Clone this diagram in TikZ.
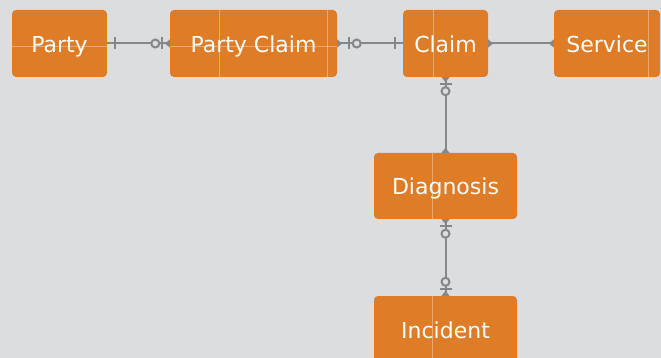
\documentclass[tikz,border=0pt]{standalone}
\usepackage{fontspec}
\newfontfamily\boxfont{DejaVu Sans}
\definecolor{bg}{HTML}{DCDDDF}
\definecolor{boxorange}{HTML}{DE7C28}
\definecolor{linegray}{HTML}{85878A}
\tikzset{
  ent/.style={fill=boxorange, rounded corners=4pt, inner sep=0pt, minimum height=67pt},
  lbl/.style={anchor=base, inner sep=0pt, text=white, font=\boxfont\fontsize{22}{26}\selectfont},
  conn/.style={draw=linegray, line width=2pt},
  tipmark/.style={fill=linegray, draw=none},
  tex/.style={draw=white, opacity=0.35, line width=0.8pt}
}
\begin{document}
\begin{tikzpicture}[x=1pt,y=-1pt]
\fill[bg] (0,0) rectangle (661,358);
\useasboundingbox (0,0) rectangle (661,358);
\clip (0,0) rectangle (661,358);
% entities
\node[ent, minimum width=95pt] (party) at (59.5,43.5) {};
\node[ent, minimum width=167pt] (pc) at (253.5,43.5) {};
\node[ent, minimum width=85pt] (claim) at (445.5,43.5) {};
\node[ent, minimum width=106pt] (service) at (607,43.5) {};
\node[ent, minimum width=143pt, minimum height=66pt] (diag) at (445.5,186) {};
\node[ent, minimum width=143pt] (inc) at (445.5,329.5) {};
% texture lines
\draw[tex] ([yshift=-3pt]party.west) -- ([yshift=-3pt]party.east);
\draw[tex] ([yshift=-3pt]pc.west) -- ([yshift=-3pt]pc.east);
\draw[tex] (219,10) -- (219,77);
\draw[tex] (327,10) -- (327,77);
\draw[tex] (433,10) -- (433,77);
\draw[tex] (648,10) -- (648,77);
\draw[tex] (432.7,153) -- (432.7,219);
\draw[tex] (432.7,296) -- (432.7,358);
% labels
\node[lbl] (tparty) at ([yshift=-9pt]party.center) {Party};
\node[lbl] (tpc) at ([yshift=-9pt]pc.center) {Party Claim};
\node[lbl] (tclaim) at ([yshift=-9pt]claim.center) {Claim};
\node[lbl] (tservice) at ([yshift=-9pt]service.center) {Service};
\node[lbl] (tdiag) at ([yshift=-9pt]diag.center) {Diagnosis};
\node[lbl] (tinc) at ([yshift=-9pt]inc.center) {Incident};
% Party -- Party Claim
\draw[conn] (party.east) -- (pc.west);
\draw[conn] ([xshift=8pt]party.east) ++(0,-6) -- ++(0,12);
\draw[conn] ([xshift=-8pt]pc.west) ++(0,-6) -- ++(0,12);
\draw[conn, fill=bg] ([xshift=-14.5pt]pc.west) circle (4pt);
\fill[tipmark] (pc.west) ++(0,-4) -- ++(-5,4) -- ++(5,4) -- cycle;
% Party Claim -- Claim
\draw[conn] (pc.east) -- (claim.west);
\fill[tipmark] (pc.east) ++(0,-4) -- ++(5,4) -- ++(-5,4) -- cycle;
\draw[conn] ([xshift=12pt]pc.east) ++(0,-6) -- ++(0,12);
\draw[conn, fill=bg] ([xshift=19.5pt]pc.east) circle (4pt);
\draw[conn] ([xshift=-8pt]claim.west) ++(0,-6) -- ++(0,12);
% Claim -- Service
\draw[conn] (claim.east) -- (service.west);
\fill[tipmark] (claim.east) ++(0,-4) -- ++(5,4) -- ++(-5,4) -- cycle;
\fill[tipmark] (service.west) ++(0,-4) -- ++(-5,4) -- ++(5,4) -- cycle;
% Claim -- Diagnosis
\draw[conn] (claim.south) -- (diag.north);
\fill[tipmark] (claim.south) ++(-4,0) -- ++(4,5) -- ++(4,-5) -- cycle;
\draw[conn] ([yshift=-7pt]claim.south) ++(-6,0) -- ++(12,0);
\draw[conn, fill=bg] ([yshift=-14pt]claim.south) circle (4pt);
\fill[tipmark] (diag.north) ++(-4,0) -- ++(4,-5) -- ++(4,5) -- cycle;
% Diagnosis -- Incident
\draw[conn] (diag.south) -- (inc.north);
\fill[tipmark] (diag.south) ++(-4,0) -- ++(4,5) -- ++(4,-5) -- cycle;
\draw[conn] ([yshift=-7pt]diag.south) ++(-6,0) -- ++(12,0);
\draw[conn, fill=bg] ([yshift=-14.5pt]diag.south) circle (4pt);
\fill[tipmark] (inc.north) ++(-4,0) -- ++(4,-5) -- ++(4,5) -- cycle;
\draw[conn] ([yshift=7pt]inc.north) ++(-6,0) -- ++(12,0);
\draw[conn, fill=bg] ([yshift=14pt]inc.north) circle (4pt);
\end{tikzpicture}
\end{document}
